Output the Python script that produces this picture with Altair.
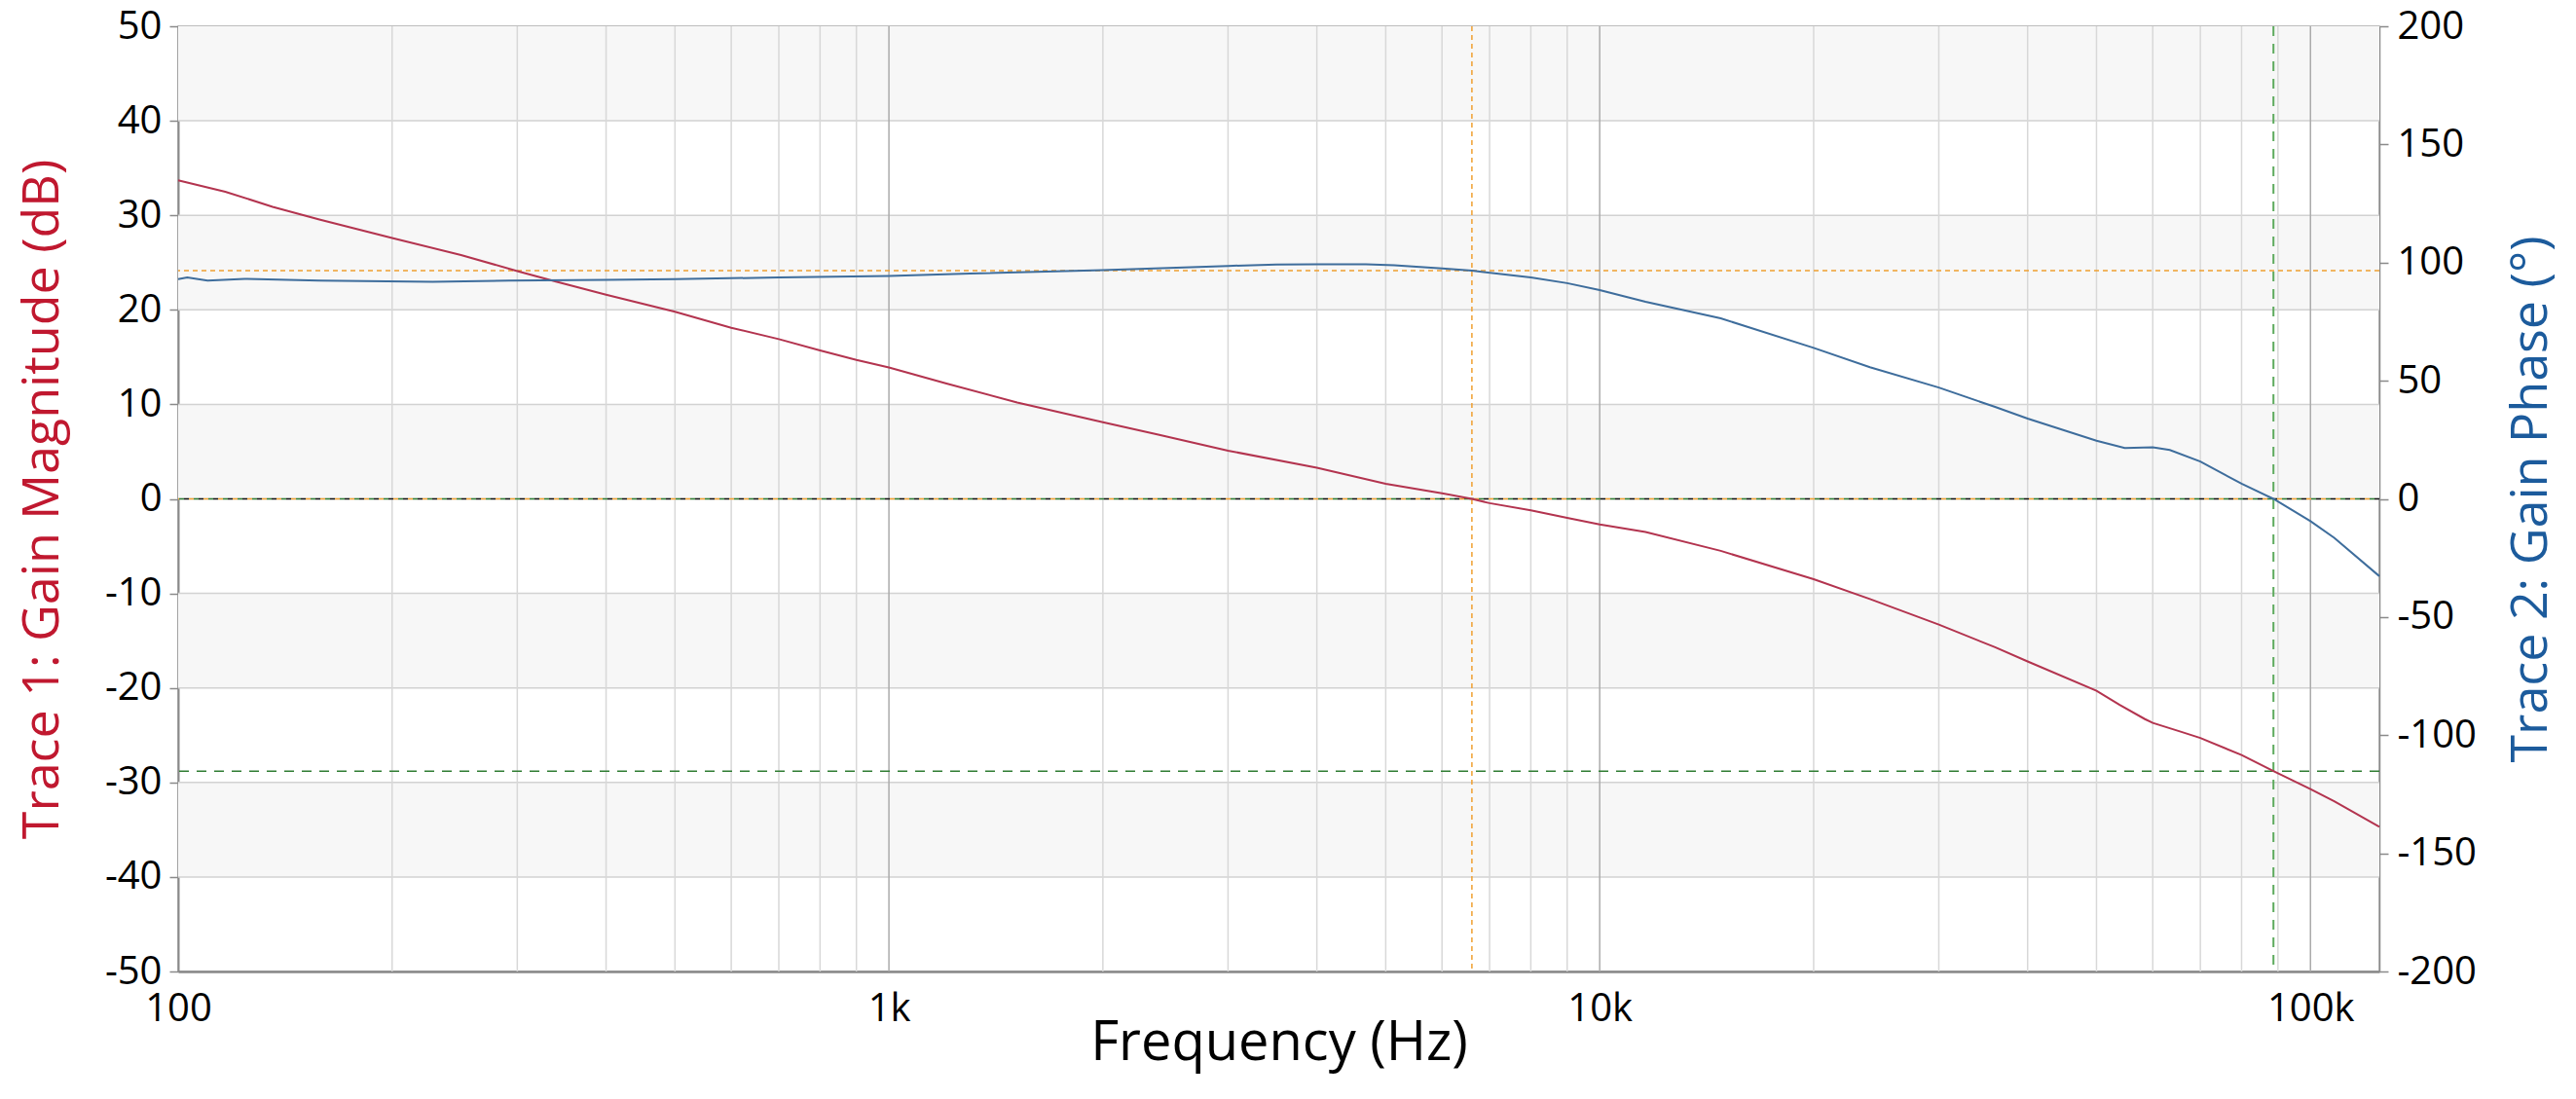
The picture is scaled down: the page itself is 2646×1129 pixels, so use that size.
import altair as alt
import pandas as pd

# ---------------- data ----------------
mag_freq = [100, 116.5, 135.8, 158, 200, 250, 300, 340, 400, 500, 600, 700, 800, 900,
            1000, 1205, 1515, 2000, 2393, 3000, 4000, 5000, 6000, 6610, 7000, 8000, 9000,
            10000, 11600, 14800, 20000, 24000, 30000, 36000, 40000, 50000, 53900, 58500,
            60000, 65500, 70000, 80000, 88700, 100000, 108000, 125000]
mag_db = [33.7, 32.5, 30.9, 29.55, 27.6, 25.8, 24.1, 23.0, 21.6, 19.8, 18.1, 16.9, 15.7, 14.7,
          13.9, 12.2, 10.2, 8.1, 6.8, 5.1, 3.3, 1.6, 0.6, 0.0, -0.45, -1.2, -2.0,
          -2.7, -3.5, -5.5, -8.5, -10.6, -13.3, -15.7, -17.2, -20.3, -21.8, -23.3,
          -23.7, -24.6, -25.3, -27.1, -28.8, -30.7, -32.0, -34.7]

ph_freq = [100, 103, 110, 124, 158, 228, 292, 400, 500, 700, 1000, 1300, 2000, 3000, 3508,
           4000, 4690, 5140, 6000, 6610, 8000, 9000, 10000, 11600, 14800, 20000, 24000,
           30000, 36000, 40000, 50000, 54800, 60000, 63400, 70000, 80000, 88700, 100000,
           108000, 125000]
ph_deg = [93.0, 93.7, 92.4, 93.1, 92.4, 91.9, 92.4, 92.7, 93.0, 93.7, 94.3, 95.4, 96.8, 98.6, 99.2,
          99.3, 99.3, 98.9, 97.5, 96.6, 93.7, 91.3, 88.4, 83.4, 76.4, 63.9, 55.7,
          47.1, 38.9, 34.0, 24.6, 21.5, 21.8, 20.7, 15.8, 6.4, 0.0, -9.45,
          -16.5, -32.7]

band_lo = [40, 20, 0, -20, -40]
band_hi = [50, 30, 10, -10, -30]
grid_db = [-40, -30, -20, -10, 0, 10, 20, 30, 40]
minor_freq = [200, 300, 400, 500, 600, 700, 800, 900,
              2000, 3000, 4000, 5000, 6000, 7000, 8000, 9000,
              20000, 30000, 40000, 50000, 60000, 70000, 80000, 90000]
major_freq = [1000, 10000, 100000]
x_ticks = [100, 1000, 10000, 100000]
x_tick_labels = ["100", "1k", "10k", "100k"]
db_ticks = [-50, -40, -30, -20, -10, 0, 10, 20, 30, 40, 50]
ph_ticks = [-200, -150, -100, -50, 0, 50, 100, 150, 200]

gain_cross_freq = [6610]
phase_margin_deg = [96.6]
phase_cross_freq = [88700]
gain_margin_db = [-28.8]
zero_level = [0]

# ---------------- chart ----------------
W, H = 2261, 971
FONT = "Open Sans"
RED_LINE = "#b3344f"
BLUE_LINE = "#3e6d9c"
RED_TITLE = "#c0182f"
BLUE_TITLE = "#1c5b9c"
ORANGE = "#f0a030"
GREEN_V = "#5daa5d"
GREEN_H = "#2f7d32"
AXIS_GRAY = "#8a8a8a"


def xs():
    return alt.Scale(type="log", domain=[100, 125000], nice=False)


def dbs():
    return alt.Scale(domain=[-50, 50], nice=False, zero=False)


def phs():
    return alt.Scale(domain=[-200, 200], nice=False, zero=False)


x_label_expr = " : ".join(
    f"datum.value == {v} ? '{l}'" for v, l in zip(x_ticks, x_tick_labels)
) + " : ''"
num_label_expr = "'' + datum.value"   # plain hyphen-minus like the reference

X_AXIS = alt.Axis(orient="bottom", values=x_ticks, labelExpr=x_label_expr,
                  grid=False, ticks=False,
                  labelFlush=False, labelOverlap=False, labelPadding=18,
                  labelFontSize=40, labelFont=FONT, labelColor="#000000",
                  domain=True, domainColor=AXIS_GRAY, domainWidth=2.5,
                  title="Frequency (Hz)", titleFont=FONT, titleFontSize=56,
                  titleFontWeight="normal", titleColor="#000000",
                  titleBaseline="alphabetic", titleX=W / 2, titleY=90,
                  titleAlign="center")


def X():
    return alt.X("f:Q", scale=xs(), axis=X_AXIS)


mag_df = pd.DataFrame({"f": mag_freq, "db": mag_db})
ph_df = pd.DataFrame({"f": ph_freq, "deg": ph_deg})
band_df = pd.DataFrame({"lo": band_lo, "hi": band_hi})
hgrid_df = pd.DataFrame({"db": grid_db})
minor_df = pd.DataFrame({"f": minor_freq})
major_df = pd.DataFrame({"f": major_freq})
zero_df = pd.DataFrame({"db": zero_level})

bands = alt.Chart(band_df).mark_rect(color="#f7f7f7").encode(
    x=alt.value(0), x2=alt.value("width"),
    y=alt.Y("lo:Q", scale=dbs(), axis=None),
    y2="hi:Q",
)

hgrid = alt.Chart(hgrid_df).mark_rule(color="#d2d2d2", strokeWidth=1.5).encode(
    y=alt.Y("db:Q", scale=dbs(), axis=None))
vminor = alt.Chart(minor_df).mark_rule(color="#d8d8d8", strokeWidth=1.5).encode(x=X())
vmajor = alt.Chart(major_df).mark_rule(color="#ababab", strokeWidth=1.5).encode(x=X())

zero_black = alt.Chart(zero_df).mark_rule(color="#111111", strokeWidth=1.5,
                                         strokeDash=[5, 10]).encode(
    y=alt.Y("db:Q", scale=dbs(), axis=None))
zero_orange = alt.Chart(zero_df).mark_rule(color=ORANGE, strokeWidth=1.5, strokeDash=[5, 10],
                                          strokeDashOffset=5).encode(
    y=alt.Y("db:Q", scale=dbs(), axis=None))
zero_green = alt.Chart(zero_df).mark_rule(color=GREEN_H, strokeWidth=1.5, strokeDash=[5, 10],
                                         strokeDashOffset=10).encode(
    y=alt.Y("db:Q", scale=dbs(), axis=None))

gm_h = alt.Chart(pd.DataFrame({"db": gain_margin_db})).mark_rule(
    color=GREEN_H, strokeWidth=1.5, strokeDash=[10, 8]).encode(
    y=alt.Y("db:Q", scale=dbs(), axis=None))
gc_v = alt.Chart(pd.DataFrame({"f": gain_cross_freq})).mark_rule(
    color=ORANGE, strokeWidth=1.5, strokeDash=[5, 4]).encode(x=X())
pc_v = alt.Chart(pd.DataFrame({"f": phase_cross_freq})).mark_rule(
    color=GREEN_V, strokeWidth=2, strokeDash=[10, 8]).encode(x=X())
pm_h = alt.Chart(pd.DataFrame({"deg": phase_margin_deg})).mark_rule(
    color=ORANGE, strokeWidth=1.5, strokeDash=[5, 4]).encode(
    y=alt.Y("deg:Q", scale=phs(), axis=None))

mag_line = alt.Chart(mag_df).mark_line(color=RED_LINE, strokeWidth=2).encode(
    x=X(),
    y=alt.Y("db:Q", scale=dbs(),
            axis=alt.Axis(orient="left", values=db_ticks, labelExpr=num_label_expr,
                          grid=False, tickSize=9,
                          tickColor=AXIS_GRAY, tickWidth=1.5, labelFlush=False,
                          labelOverlap=False, labelPadding=8, labelFontSize=40,
                          labelFont=FONT, labelColor="#000000", domain=True,
                          domainColor=AXIS_GRAY, domainWidth=2,
                          title="Trace 1: Gain Magnitude (dB)", titleFont=FONT,
                          titleFontSize=52, titleFontWeight="normal", titleColor=RED_TITLE,
                          titleAngle=270, titleBaseline="alphabetic", titleAlign="center",
                          titleX=-124, titleY=H / 2)),
)

ph_line = alt.Chart(ph_df).mark_line(color=BLUE_LINE, strokeWidth=2).encode(
    x=X(),
    y=alt.Y("deg:Q", scale=phs(),
            axis=alt.Axis(orient="right", values=ph_ticks, labelExpr=num_label_expr,
                          grid=False, tickSize=9,
                          tickColor=AXIS_GRAY, tickWidth=1.5, labelFlush=False,
                          labelOverlap=False, labelPadding=9, labelFontSize=40,
                          labelFont=FONT, labelColor="#000000", domain=True,
                          domainColor=AXIS_GRAY, domainWidth=1.5,
                          title="Trace 2: Gain Phase (°)", titleFont=FONT, titleFontSize=52,
                          titleFontWeight="normal", titleColor=BLUE_TITLE, titleAngle=270,
                          titleBaseline="alphabetic", titleAlign="center",
                          titleX=171, titleY=H / 2)),
)

chart = alt.layer(
    bands, hgrid, vminor, vmajor, zero_black, zero_orange, zero_green,
    gm_h, gc_v, pc_v, pm_h, mag_line, ph_line
).resolve_scale(y="independent").properties(
    width=W, height=H,
    autosize=alt.AutoSizeParams(type="none"),
    padding={"left": 183, "top": 27, "right": 202, "bottom": 131},
    background="#ffffff",
).configure_view(stroke="#a8a8a8", strokeWidth=1.5)

chart.save("out.html", embed_options={"renderer": "svg", "actions": False})
